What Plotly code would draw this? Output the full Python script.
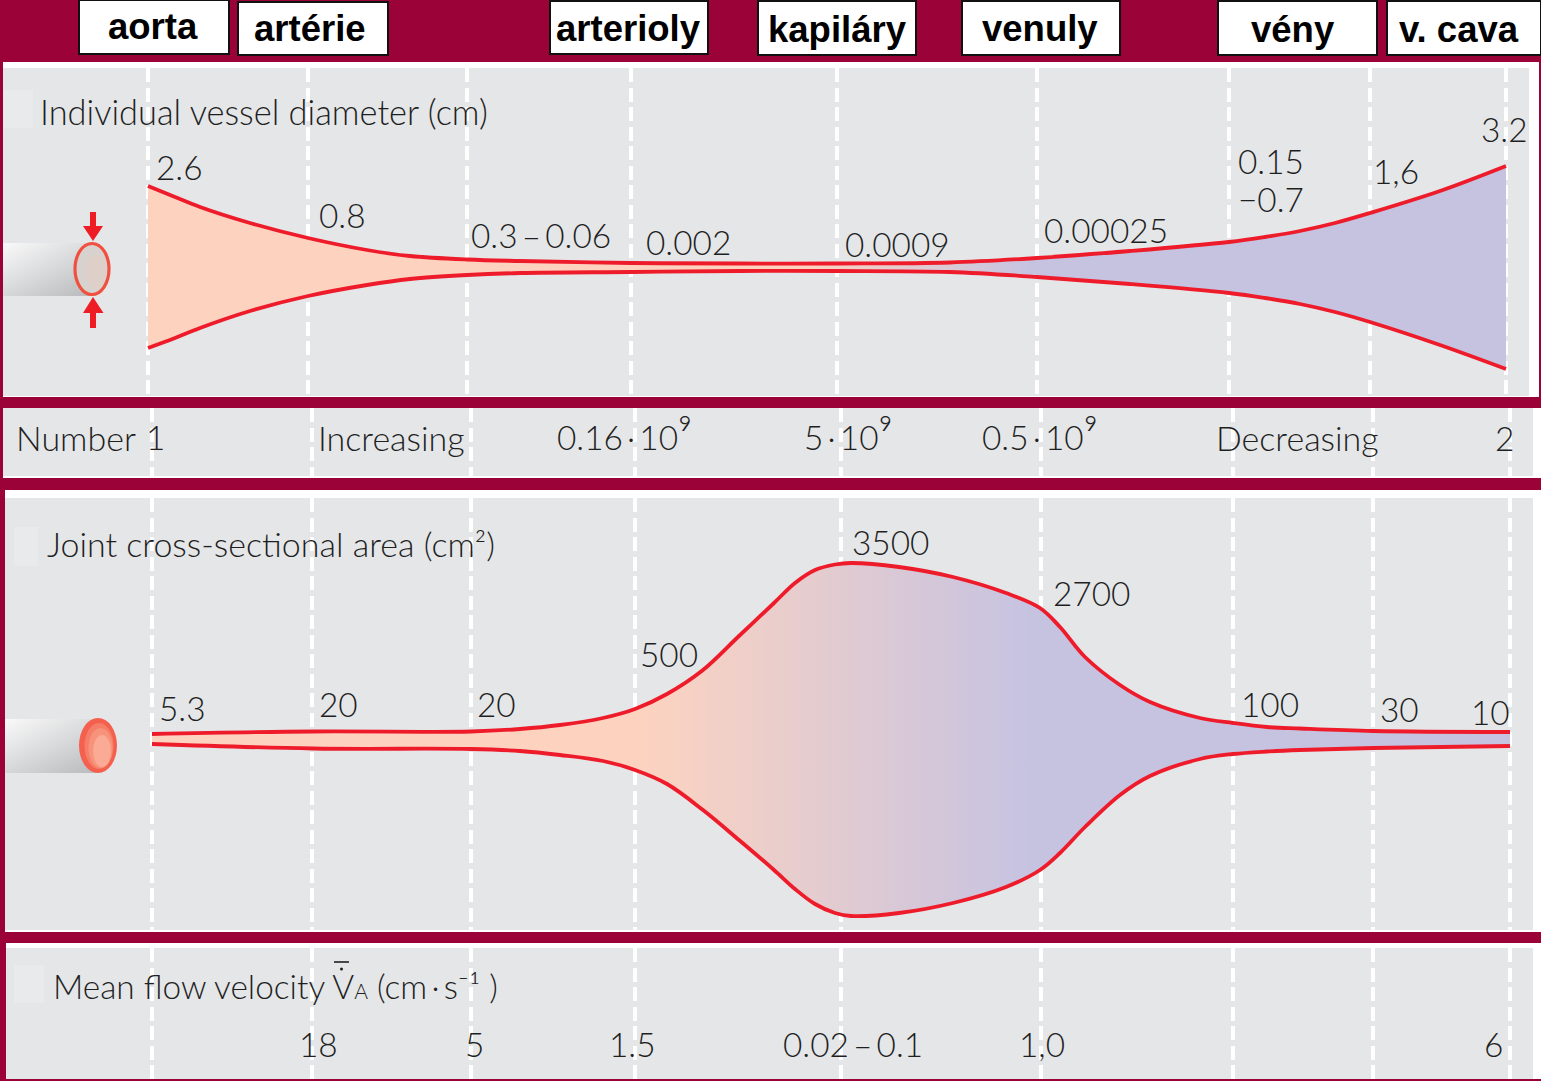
import plotly.graph_objects as go

W, H = 1541, 1081
CRIMSON = "#9b0238"
GREY = "#e5e6e8"
RED = "#ee1c2b"
INK = "#1f1f1f"
PEACH = "#fdd3c0"
LAV = "#c6c3e1"
BODY = "Lato Light, Lato"
NUM_SIZE = 33.4
WORD_SIZE = 34.0

# ---- data ----
vessel_names = ["aorta", "artérie", "arterioly", "kapiláry", "venuly", "vény", "v. cava"]

stage_pos_top = [148, 308, 467, 631, 837, 1037, 1229, 1370, 1506]
stage_pos = [152, 312, 471, 635, 841, 1041, 1233, 1373, 1510]

diam_x = [148, 175, 200, 250, 308, 367, 410, 467, 520, 631, 740, 837, 950, 1037, 1130, 1229, 1265, 1300, 1335, 1370, 1440, 1506]
diam_upper = [186, 197, 207, 223, 238, 250, 256, 259.5, 261, 263, 263.5, 263.5, 262.5, 258, 251, 242, 237, 231, 223, 213, 191, 166]
diam_lower = [348, 338, 328, 311, 296, 285, 279, 275, 273, 272, 271, 271, 272, 277, 284, 293, 298, 304, 312, 322, 345, 369]

area_x = [152, 313, 471, 520, 560, 603, 635, 667, 703, 739, 774, 795, 815, 835, 851, 899, 953, 1006, 1040, 1060, 1085, 1120, 1150, 1200, 1233, 1267, 1300, 1373, 1510]
area_upper = [734, 731.5, 731.5, 729, 725, 718, 709, 694, 670, 636, 603, 583, 570, 564.5, 563, 567, 577, 593, 608, 627, 657, 685, 702, 718, 723, 727, 728.5, 731, 732]
area_lower = [744, 748.5, 749, 751, 755, 761, 770, 784, 810, 840, 870, 889, 904, 913, 916, 913, 903, 887, 870, 853, 827, 795, 776, 759, 754, 751.5, 750, 748, 746]

SUP9 = '<span style="font-size:42px">⁹</span>'
diam_labels = ["2.6", "0.8", "0.3\u2009–\u20090.06", "0.002", "0.0009", "0.00025", "0.15", "−0.7", "1,6", "3.2"]
number_labels = ["Number", "1", "Increasing", "0.16\u2009·\u200910" + SUP9, "5\u2009·\u200910" + SUP9, "0.5\u2009·\u200910" + SUP9, "Decreasing", "2"]
area_labels = ["5.3", "20", "20", "500", "3500", "2700", "100", "30", "10"]
velocity_labels = ["18", "5", "1.5", "0.02\u2009–\u20090.1", "1,0", "6"]

titles = ["Individual vessel diameter (cm)",
          "Joint cross-sectional area (cm²)",
          'Mean flow velocity V<span style="font-size:21px">A</span> (cm\u2009·\u2009s⁻¹ )']
title_sizes = [34.4, 34.0, 33.4]

# ---- layout placement ----
header_boxes = [(79, 229, 0, 54), (238, 388, 2, 55), (550, 708, 1, 54), (758, 916, 1, 55),
                (962, 1120, 1, 55), (1218, 1377, 1, 55), (1387, 1541, 1, 55)]
header_text_x = [153, 310, 628, 837, 1040, 1293, 1459]
header_text_y = [26.5, 28, 28, 29, 28, 29, 29]

white_panels = [(3, 1539, 62, 397), (3, 1541, 408, 478), (5, 1541, 490, 932), (6, 1541, 943, 1079)]
grey_panels = [(3, 1529, 68, 396), (3, 1533, 408, 476), (5, 1533, 498, 930), (6, 1533, 948, 1079)]
patches = [(3, 33, 90, 128, 0), (14, 38, 527, 566, 2), (14, 44, 965, 1003, 3)]

diam_label_xy = [(156, 168), (319, 216), (471, 236), (646, 243), (845, 245), (1044, 231), (1238, 162), (1238, 200), (1373, 172), (1481, 130)]
number_label_xy = [(16, 438), (146.5, 438), (318, 438), (557, 435), (804, 435), (982, 435), (1216, 438), (1495, 439)]
area_label_xy = [(159, 709), (319.5, 705), (477, 705), (640, 655), (852, 543), (1053, 594), (1241, 705), (1380, 710), (1471, 713)]
velocity_label_xy = [(299, 1045), (465, 1045), (609, 1045), (783, 1045), (1019, 1045), (1484, 1045)]
title_xy = [(40, 113, 0), (47, 544, 2), (53, 987, 3)]

fig = go.Figure()


def fx(v):
    return v / W


def fy(v):
    return 1 - v / H


axes = [("xaxis", "yaxis", "x", "y"), ("xaxis2", "yaxis2", "x2", "y2"),
        ("xaxis3", "yaxis3", "x3", "y3"), ("xaxis4", "yaxis4", "x4", "y4")]
layout_axes = {}
for i, (xa, ya, xr, yr) in enumerate(axes):
    x0, x1, y0, y1 = grey_panels[i]
    layout_axes[xa] = dict(domain=[fx(x0), fx(x1)], range=[x0, x1], anchor=yr,
                           tickmode="array", tickvals=stage_pos_top if i == 0 else stage_pos,
                           showticklabels=False, ticks="", showgrid=True, gridcolor="white",
                           gridwidth=3.6, griddash="14px,5.5px", zeroline=False, showline=False, fixedrange=True)
    layout_axes[ya] = dict(domain=[fy(y1), fy(y0)], range=[y1, y0], anchor=xr,
                           showticklabels=False, ticks="", showgrid=False, zeroline=False,
                           showline=False, fixedrange=True)


def band(xs, up, lo, xr, yr, g0, g1):
    fig.add_trace(go.Scatter(x=xs, y=up, xaxis=xr, yaxis=yr, mode="lines", showlegend=False,
                             line=dict(color=RED, width=3.8, shape="spline", smoothing=1.0), hoverinfo="skip"))
    fig.add_trace(go.Scatter(x=xs, y=lo, xaxis=xr, yaxis=yr, mode="lines", showlegend=False, fill="tonexty",
                             fillgradient=dict(type="horizontal", start=g0, stop=g1,
                                               colorscale=[[0, PEACH], [1, LAV]]),
                             line=dict(color=RED, width=3.8, shape="spline", smoothing=1.0), hoverinfo="skip"))


def tube(x0, x1, y0, y1, xr, yr):
    xs = [x0, x1, x1, x0, x0]
    ys = [y0, y0, y1, y1, y0]
    fig.add_trace(go.Scatter(x=xs, y=ys, xaxis=xr, yaxis=yr, mode="none", fill="toself", showlegend=False,
                             fillgradient=dict(type="vertical", start=y0, stop=y1,
                                               colorscale=[[0, "#f6f6f6"], [0.5, "#dcdddf"], [1, "#bfc1c3"]]),
                             hoverinfo="skip"))
    fig.add_trace(go.Scatter(x=xs, y=ys, xaxis=xr, yaxis=yr, mode="none", fill="toself", showlegend=False,
                             fillgradient=dict(type="horizontal", start=x0, stop=x1,
                                               colorscale=[[0, "rgba(255,255,255,0.35)"], [1, "rgba(170,172,175,0.35)"]]),
                             hoverinfo="skip"))


tube(3, 92, 243, 296, "x", "y")
tube(5, 98, 719, 773, "x3", "y3")
band(diam_x, diam_upper, diam_lower, "x", "y", 800, 1030)
band(area_x, area_upper, area_lower, "x3", "y3", 640, 1030)

shapes = []
for x0, x1, y0, y1 in white_panels:
    shapes.append(dict(type="rect", xref="paper", yref="paper", x0=fx(x0), x1=fx(x1), y0=fy(y1), y1=fy(y0),
                       fillcolor="white", line_width=0, layer="below"))
for x0, x1, y0, y1 in grey_panels:
    shapes.append(dict(type="rect", xref="paper", yref="paper", x0=fx(x0), x1=fx(x1), y0=fy(y1), y1=fy(y0),
                       fillcolor=GREY, line_width=0, layer="below"))
for x0, x1, y0, y1 in header_boxes:
    shapes.append(dict(type="rect", xref="paper", yref="paper", x0=fx(x0), x1=fx(x1), y0=fy(y1), y1=fy(y0),
                       fillcolor="white", line=dict(color="#111111", width=2), layer="below"))
for x0, x1, y0, y1, i in patches:
    xr, yr = axes[i][2], axes[i][3]
    shapes.append(dict(type="rect", xref=xr, yref=yr, x0=x0, x1=x1, y0=y0, y1=y1,
                       fillcolor="#e9eaeb", line_width=0, layer="below"))


def ell(cx, cy, w, h, fill, xr, yr, line=None):
    shapes.append(dict(type="circle", xref=xr, yref=yr, x0=cx - w / 2, x1=cx + w / 2, y0=cy - h / 2, y1=cy + h / 2,
                       fillcolor=fill, line=dict(color=line, width=3.2) if line else dict(width=0), layer="above"))


ell(92, 269, 34, 51, "#d8d2cf", "x", "y", "#f0503f")
ell(96, 272, 20, 34, "#decfc8", "x", "y")
ell(98, 745.5, 38, 55, "#f5604e", "x3", "y3")
ell(99, 746, 29, 46, "#f67d67", "x3", "y3")
ell(100.5, 748, 24, 40, "#f8937b", "x3", "y3")
ell(102, 751, 18, 32, "#fbab95", "x3", "y3")

shapes.append(dict(type="path", xref="x", yref="y", fillcolor="#ee1c25", line_width=0, layer="above",
                   path="M 90 212 L 96 212 L 96 226 L 103 226 L 93 241 L 83 226 L 90 226 Z"))
shapes.append(dict(type="path", xref="x", yref="y", fillcolor="#ee1c25", line_width=0, layer="above",
                   path="M 90 328 L 96 328 L 96 313 L 103.5 313 L 93 297 L 83 313 L 90 313 Z"))
# bar and dot over the V of the velocity symbol
shapes.append(dict(type="line", xref="x4", yref="y4", x0=334, x1=349, y0=962, y1=962,
                   line=dict(color=INK, width=1.6), layer="above"))
shapes.append(dict(type="circle", xref="x4", yref="y4", x0=340, x1=343, y0=967.5, y1=970.5,
                   fillcolor=INK, line_width=0, layer="above"))

ann = []


def text(x, y, s, xr, yr, size=NUM_SIZE, family=BODY, color=INK, anchor="left"):
    ann.append(dict(x=x - 1.5, y=y - 1, xref=xr, yref=yr, text=s, showarrow=False, xanchor=anchor, yanchor="middle",
                    align=anchor, borderpad=0, font=dict(family=family, size=size, color=color)))


for (x, y), s in zip(diam_label_xy, diam_labels):
    text(x, y, s, "x", "y")
for (x, y), s in zip(number_label_xy, number_labels):
    text(x, y, s, "x2", "y2", size=WORD_SIZE if s[0].isalpha() else NUM_SIZE)
for (x, y), s in zip(area_label_xy, area_labels):
    text(x, y, s, "x3", "y3")
for (x, y), s in zip(velocity_label_xy, velocity_labels):
    text(x, y, s, "x4", "y4")
for (x, y, i), s, sz in zip(title_xy, titles, title_sizes):
    text(x, y, s, axes[i][2], axes[i][3], size=sz)
for x, y, s in zip(header_text_x, header_text_y, vessel_names):
    ann.append(dict(x=fx(x), y=fy(y), xref="paper", yref="paper", text="<b>%s</b>" % s, showarrow=False,
                    xanchor="center", yanchor="middle", font=dict(family="Liberation Sans", size=36.5, color="black")))

fig.update_layout(width=W, height=H, margin=dict(l=0, r=0, t=0, b=0, pad=0), autosize=False,
                  paper_bgcolor=CRIMSON, plot_bgcolor="rgba(0,0,0,0)", showlegend=False,
                  shapes=shapes, annotations=ann, **layout_axes)

fig.write_html("out.html", config=dict(displayModeBar=False),
               post_script="document.body.style.margin='0';document.body.style.overflow='hidden';")
